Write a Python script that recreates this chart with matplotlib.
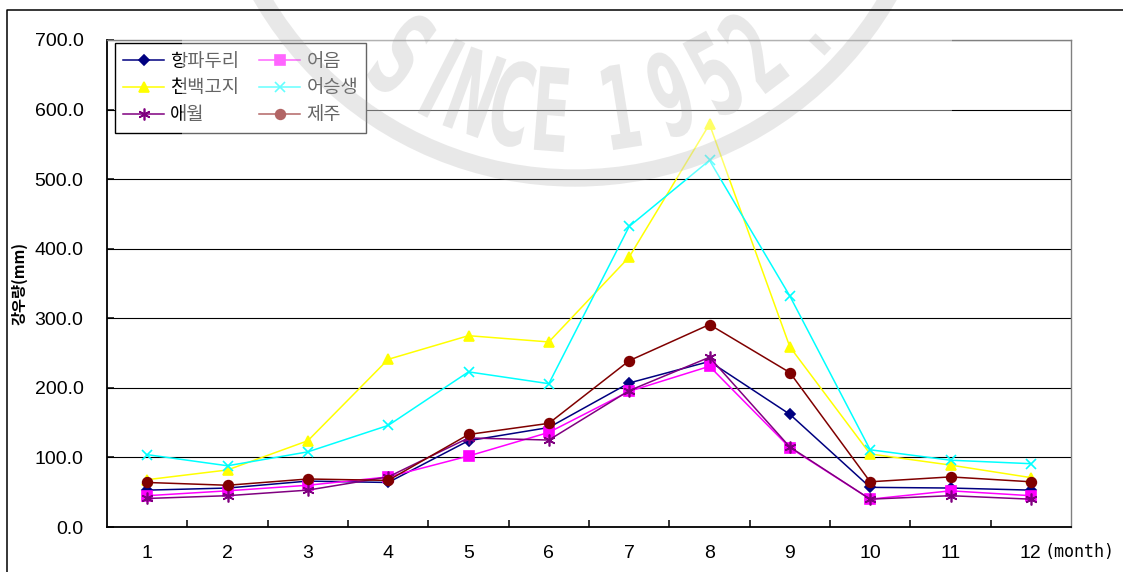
import numpy as np
import matplotlib.pyplot as plt
from matplotlib.patches import Rectangle, Circle, PathPatch
from matplotlib.textpath import TextPath
from matplotlib.font_manager import FontProperties
from matplotlib.transforms import Affine2D

plt.rcParams['font.family'] = ['Liberation Sans', 'Noto Sans CJK KR', 'DejaVu Sans']

# 월별 강우량 (mm)
months = [1, 2, 3, 4, 5, 6, 7, 8, 9, 10, 11, 12]
hangpaduri = [53, 56, 66, 64, 124, 143, 207, 238, 162, 57, 56, 53]
eoeum = [45, 52, 60, 72, 102, 136, 195, 231, 114, 40, 52, 45]
cheonbaek = [68, 82, 124, 241, 275, 266, 388, 579, 259, 105, 89, 71]
eoseungsaeng = [104, 88, 108, 146, 223, 206, 432, 527, 332, 111, 96, 91]
aewol = [41, 45, 53, 72, 128, 125, 196, 244, 115, 40, 45, 40]
jeju = [64, 60, 69, 67, 133, 149, 239, 291, 222, 65, 72, 65]

y_ticks = [0, 100, 200, 300, 400, 500, 600, 700]

series = [
    ('항파두리', hangpaduri, '#000080', 'D', 5.5),
    ('어음', eoeum, '#FF00FF', 's', 6.5),
    ('천백고지', cheonbaek, '#FFFF00', '^', 7.5),
    ('어승생', eoseungsaeng, '#00FFFF', 'x', 7.5),
    ('애월', aewol, '#800080', (6, 2, 0), 8.5),
    ('제주', jeju, '#800000', 'o', 7),
]

fig = plt.figure(figsize=(11.23, 5.72), dpi=100)
ax = fig.add_axes([107 / 1123, 45 / 572, 964 / 1123, 487 / 572])

handles = []
for name, vals, col, mk, ms in series:
    h, = ax.plot(months, vals, color=col, lw=1.1, marker=mk, ms=ms,
                 mfc=col, mec=col, mew=1.2, label=name)
    handles.append(h)

ax.set_xlim(0.5, 12.5)
ax.set_ylim(0, 700)
ax.set_yticks(y_ticks)
ax.set_yticklabels([f'{v:.1f}' for v in y_ticks])
ax.set_xticks(months)
ax.set_xticks(np.arange(1.5, 12, 1), minor=True)
ax.tick_params(axis='x', which='major', length=0, pad=13, labelsize=14)
ax.tick_params(axis='x', which='minor', direction='in', length=5, width=1.1)
ax.tick_params(axis='y', direction='in', length=5, width=1.1, pad=17, labelsize=14)

ax.yaxis.grid(True, color='black', lw=0.8)
ax.set_axisbelow(True)
for s in ['left', 'bottom']:
    ax.spines[s].set_linewidth(1.3)
    ax.spines[s].set_color('black')
for s in ['top', 'right']:
    ax.spines[s].set_linewidth(1.0)
    ax.spines[s].set_color('#808080')

ax.set_ylabel('강우량(mm)', fontsize=11, fontweight='bold',
              family=['Noto Sans CJK KR', 'DejaVu Sans'])
ax.yaxis.set_label_coords(-0.083, 0.5)

ax.annotate('(month)', xy=(12, 0), xycoords=('data', 'axes fraction'),
            xytext=(10, -18), textcoords='offset points', ha='left', va='center',
            fontsize=12, family='DejaVu Sans Mono')

order = [0, 2, 4, 1, 3, 5]
leg = ax.legend([handles[i] for i in order], [series[i][0] for i in order],
                ncol=2, loc='upper left', bbox_to_anchor=(8 / 964, 1 - 3 / 487),
                borderaxespad=0, fancybox=False, framealpha=1, edgecolor='black',
                numpoints=1, handlelength=2.2, handletextpad=0.32,
                columnspacing=1.07, labelspacing=0.3, borderpad=0.42,
                prop={'family': ['Noto Sans CJK KR', 'DejaVu Sans'], 'size': 13.5})
leg.get_frame().set_linewidth(1.0)

# 바깥 테두리와 배경 로고
ov = fig.add_axes([0, 0, 1, 1], zorder=10)
ov.set_xlim(0, 1123)
ov.set_ylim(572, 0)
ov.axis('off')
ov.patch.set_visible(False)

ov.plot([7, 7, 1130], [580, 10, 10], color='black', lw=1.1)

ov.add_patch(Rectangle((182, 0), 770, 178, facecolor='white', alpha=0.4,
                       edgecolor='none'))

cx, cy = 575, -184
ov.add_patch(Circle((cx, cy), 362, fill=False, edgecolor='#999999',
                    lw=12.5, alpha=0.22))

chars = ['S', 'I', 'N', 'C', 'E', '1', '9', '5', '2', '.']
angles = [-36, -27, -20, -12.5, -4.5, 9, 19, 28.5, 37, 47]
fp = FontProperties(family='DejaVu Sans', weight='bold')
for ch, ang in zip(chars, angles):
    tp = TextPath((0, 0), ch, size=115, prop=fp)
    bb = tp.get_extents()
    phi = np.deg2rad(ang)
    r = 335 if ch == '.' else 294
    px = cx + r * np.sin(phi)
    py = cy + r * np.cos(phi)
    tr = (Affine2D()
          .translate(-(bb.x0 + bb.x1) / 2, -(bb.y0 + bb.y1) / 2)
          .scale(0.5, -1)
          .rotate(-phi)
          .translate(px, py))
    ov.add_patch(PathPatch(tr.transform_path(tp), facecolor='#999999',
                           edgecolor='none', alpha=0.22))

fig.savefig('out.png', dpi=100)
